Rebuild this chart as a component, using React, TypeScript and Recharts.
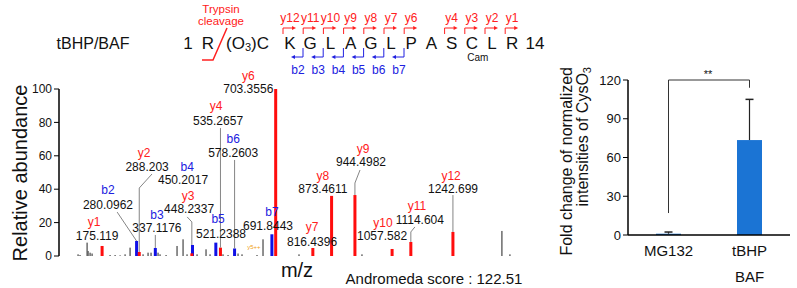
import React from 'react';
import { BarChart, Bar, XAxis, YAxis, ReferenceDot, ReferenceLine } from 'recharts';

const FONT = "'Liberation Sans', Arial, Helvetica, sans-serif";

// ---- MS/MS spectrum (tBHP/BAF) ----
// y-ion fragments (red)
const yIonNames = ['y1', 'y2', 'y3', 'y4', 'y6', 'y7', 'y8', 'y9', 'y10', 'y11', 'y12'];
const yIonMz = [175.119, 288.203, 448.2337, 535.2657, 703.3556, 816.4396, 873.4611, 944.4982, 1057.582, 1114.604, 1242.699];
const yIonIntensity = [6, 2.4, 1.6, 5, 100, 4.8, 36, 36.5, 4.2, 8.4, 14.4];

// b-ion fragments (blue)
const bIonNames = ['b2', 'b3', 'b4', 'b5', 'b6', 'b7'];
const bIonMz = [280.0962, 337.1176, 450.2017, 521.2388, 578.2603, 691.8443];
const bIonIntensity = [9, 4.8, 6.6, 8, 4.5, 13];

// unassigned peaks (gray)
const otherMz = [102, 108, 129.5, 132.5, 138.6, 144.7, 199.4, 214.7, 229.9, 245.1, 260.3, 299.8, 315, 324.1, 345.4, 351.5, 369.8, 403.2, 421.5, 433.6, 464.1, 491.4, 503.6, 543.1, 558.4, 588.8, 600.9, 646.5, 664.8, 774.3, 965.9, 1391.7, 1416.1];
const otherIntensity = [1, 0.6, 8, 3, 2, 1.5, 0.6, 0.6, 0.4, 1, 5, 1, 2, 2, 2, 1, 0.6, 6, 10, 1, 1, 4, 1, 1, 0.6, 1.5, 1, 0.6, 10, 1, 1, 15, 1];

const abundanceTicks = [0, 20, 40, 60, 80, 100];

// ---- fold change bar chart ----
const groups = ['MG132', 'tBHP'];
const groupSub = ['', 'BAF'];
const foldChange = [1, 73.5];
const foldError = [1.3, 31.5];
const foldTicks = [0, 30, 60, 90, 120];

// ---- peptide header ----
const peptide = ['K', 'G', 'L', 'A', 'G', 'L', 'P', 'A', 'S', 'C', 'L', 'R'];
const ySites = [0, 1, 2, 3, 4, 5, 6, 8, 9, 10, 11];
const bSites = [0, 1, 2, 3, 4, 5];

const RED = '#ff2020';
const BLUE = '#2020e0';
const PEAK_FILL: Record<string, string> = { other: '#555555', b: '#1010e6', y: '#ff0d0d' };
const PEAK_WIDTH: Record<string, number> = { other: 1.3, b: 3, y: 3 };

const peaks = [
  ...otherMz.map((mz, i) => ({ mz, intensity: otherIntensity[i], kind: 'other' })),
  ...bIonMz.map((mz, i) => ({ mz, intensity: bIonIntensity[i], kind: 'b' })),
  ...yIonMz.map((mz, i) => ({ mz, intensity: yIonIntensity[i], kind: 'y' })),
];

// label placement in data units: [ionX, ionY, numX, numY], optional leader polyline
const placement: Record<string, { at: number[]; leader?: number[][] }> = {
  y1: { at: [151, 20.4, 160, 12] },
  b2: { at: [193, 39.5, 193, 30.5], leader: [[221, 26.3], [280.1, 9]] },
  y2: { at: [303, 61.7, 312, 53.3], leader: [[327, 49.1], [288.2, 40.7], [288.2, 2.4]] },
  b4: { at: [434, 53.6, 421.5, 45.5] },
  y3: { at: [437, 36, 440, 28.1], leader: [[434, 23.4], [448.2, 20.4], [448.2, 6.6]] },
  b3: { at: [342, 24.8, 342, 16.8], leader: [[337.1, 12.6], [337.1, 4.8]] },
  y4: { at: [522, 90, 528, 80.8], leader: [[535.3, 76.6], [535.3, 5]] },
  b5: { at: [528, 22.6, 537, 13.6] },
  b6: { at: [574, 70.3, 574, 61.7], leader: [[578.3, 57.5], [578.3, 4.5]] },
  y6: { at: [620, 108.2, 620, 100] },
  b7: { at: [692, 26.6, 680, 18] },
  y7: { at: [814, 17.6, 814, 8.4] },
  y8: { at: [847, 48, 847, 40.1] },
  y9: { at: [969, 64.4, 963, 56.3], leader: [[960, 51.5], [944.5, 43.7], [944.5, 36.5]] },
  y10: { at: [1030, 20, 1027, 12] },
  y11: { at: [1133, 30, 1142, 21.6], leader: [[1127, 17.4], [1114.6, 14.4], [1114.6, 8.4]] },
  y12: { at: [1237, 48.2, 1243, 40.1], leader: [[1242.7, 36.5], [1242.7, 14.4]] },
};

const annotations = [
  ...yIonNames.map((ion, i) => ({ ion, text: String(yIonMz[i]), color: RED })),
  ...bIonNames.map((ion, i) => ({ ion, text: String(bIonMz[i]), color: BLUE })),
];

const PeakShape = (props: any) => {
  const { x, y, width, height } = props;
  const kind = props.payload?.kind ?? props.kind;
  const w = PEAK_WIDTH[kind];
  return <rect x={x + width / 2 - w / 2} y={y} width={w} height={Math.max(height, 0)} fill={PEAK_FILL[kind]} />;
};

const FoldBar = (props: any) => {
  const { x, y, width, height, payload } = props;
  const unit = payload.value ? height / payload.value : 0;
  const top = y - payload.err * unit;
  const cx = x + width / 2;
  return (
    <g>
      <rect x={x} y={y} width={width} height={height} fill="#1b74d4" />
      <line x1={cx} x2={cx} y1={y} y2={top} stroke="#222" strokeWidth={1.2} />
      <line x1={cx - 4} x2={cx + 4} y1={top} y2={top} stroke="#222" strokeWidth={1.5} />
    </g>
  );
};

const GroupTick = (props: any) => {
  const { x, y, payload, index } = props;
  return (
    <g>
      <text x={x} y={y + 13} textAnchor="middle" fontSize={15} fill="#111">{payload.value}</text>
      {groupSub[index] ? (
        <text x={x} y={y + 39} textAnchor="middle" fontSize={15} fill="#111">{groupSub[index]}</text>
      ) : null}
    </g>
  );
};

const Spectrum = () => (
  <BarChart width={540} height={288} data={peaks} margin={{ top: 89, right: 15, bottom: 32, left: 0 }}>
    <XAxis
      dataKey="mz"
      type="number"
      domain={[44, 1462]}
      allowDataOverflow
      tick={false}
      tickLine={false}
      axisLine={{ stroke: '#000', strokeWidth: 1.5 }}
      height={0}
    />
    <YAxis
      type="number"
      domain={[0, 100]}
      ticks={abundanceTicks}
      width={59}
      tickSize={5}
      tick={{ fill: '#111', fontSize: 12 }}
      tickLine={{ stroke: '#000' }}
      axisLine={{ stroke: '#000', strokeWidth: 1.5 }}
    />
    <Bar dataKey="intensity" shape={(p: any) => <PeakShape {...p} />} isAnimationActive={false} />
    {annotations.flatMap((a) => {
      const lead = placement[a.ion].leader || [];
      return lead.slice(1).map((p, i) => (
        <ReferenceLine
          key={`${a.ion}-lead-${i}`}
          segment={[{ x: lead[i][0], y: lead[i][1] }, { x: p[0], y: p[1] }]}
          stroke="#777"
          strokeWidth={0.9}
          ifOverflow="visible"
        />
      ));
    })}
    {annotations.map((a) => {
      const [ix, iy, nx, ny] = placement[a.ion].at;
      return (
        <React.Fragment key={a.ion}>
          <ReferenceDot x={ix} y={iy} r={0} fill="none" stroke="none" ifOverflow="visible"
            label={{ value: a.ion, position: 'center', fill: a.color, fontSize: 12 }} />
          <ReferenceDot x={nx} y={ny} r={0} fill="none" stroke="none" ifOverflow="visible"
            label={{ value: a.text, position: 'center', fill: '#111', fontSize: 12 }} />
        </React.Fragment>
      );
    })}
    <ReferenceDot x={637} y={5.4} r={0} fill="none" stroke="none" ifOverflow="visible"
      label={{ value: 'y5++', position: 'center', fill: '#f0a020', fontSize: 6 }} />
  </BarChart>
);

const barData = groups.map((name, i) => ({ name, slot: i + 0.5, value: foldChange[i], err: foldError[i] }));

const FoldChart = () => (
  <BarChart width={257} height={288} data={barData} margin={{ top: 80, right: 7, bottom: 0, left: 0 }}>
    <XAxis
      xAxisId="frame"
      dataKey="slot"
      type="number"
      domain={[0, 2]}
      ticks={[0, 1, 2]}
      tick={false}
      tickSize={4}
      tickLine={{ stroke: '#000' }}
      axisLine={{ stroke: '#000', strokeWidth: 1.5 }}
      height={0}
    />
    <XAxis
      xAxisId="cat"
      dataKey="name"
      axisLine={{ stroke: '#000', strokeWidth: 1.5 }}
      tickLine={false}
      tick={<GroupTick />}
      height={53}
    />
    <YAxis
      type="number"
      domain={[0, 120]}
      ticks={foldTicks}
      width={88}
      tickSize={5}
      tick={{ fill: '#111', fontSize: 13 }}
      tickLine={{ stroke: '#000' }}
      axisLine={{ stroke: '#000', strokeWidth: 1.5 }}
    />
    <Bar xAxisId="cat" dataKey="value" barSize={25} shape={(p: any) => <FoldBar {...p} />} isAnimationActive={false} />
    <ReferenceLine xAxisId="cat" segment={[{ x: 'MG132', y: 17 }, { x: 'MG132', y: 120 }]} stroke="#333" ifOverflow="visible" />
    <ReferenceLine xAxisId="cat" segment={[{ x: 'MG132', y: 120 }, { x: 'tBHP', y: 120 }]} stroke="#333" ifOverflow="visible" />
    <ReferenceLine xAxisId="cat" segment={[{ x: 'tBHP', y: 120 }, { x: 'tBHP', y: 114 }]} stroke="#333" ifOverflow="visible" />
  </BarChart>
);

const letterX = (i: number) => 290 + 20.2 * i;

const Header = () => (
  <svg width={797} height={288} style={{ position: 'absolute', left: 0, top: 0, pointerEvents: 'none' }} fontFamily={FONT}>
    <text x={93} y={49} textAnchor="middle" fontSize={16} fill="#111">tBHP/BAF</text>
    <text x={188} y={49} textAnchor="middle" fontSize={17} fill="#111">1</text>
    <text x={208} y={49} textAnchor="middle" fontSize={17} fill="#111">R</text>
    <text x={226} y={49} fontSize={17} fill="#111">
      (O<tspan fontSize={11} dy={2}>3</tspan><tspan dy={-2}>)C</tspan>
    </text>
    <text x={535} y={49} textAnchor="middle" fontSize={17} fill="#111">14</text>
    <polyline points="202,60 213,60 227,28" fill="none" stroke={RED} strokeWidth={1.5} />
    <text x={221} y={13} textAnchor="middle" fontSize={11.5} fill={RED}>Trypsin</text>
    <text x={221} y={25} textAnchor="middle" fontSize={11.5} fill={RED}>cleavage</text>
    {peptide.map((aa, i) => (
      <text key={i} x={letterX(i)} y={49} textAnchor="middle" fontSize={17} fill="#111">{aa}</text>
    ))}
    <text x={letterX(9) + 6} y={61} textAnchor="middle" fontSize={10} fill="#111">Cam</text>
    {ySites.map((s) => {
      const c = letterX(s);
      return (
        <g key={`y${s}`}>
          <polyline points={`${c - 7},34 ${c - 7},28 ${c + 3},28`} fill="none" stroke={RED} strokeWidth={1} />
          <polygon points={`${c + 6},28 ${c + 2},26 ${c + 2},30`} fill={RED} />
          <text x={c} y={22} textAnchor="middle" fontSize={12} fill={RED}>{`y${12 - s}`}</text>
        </g>
      );
    })}
    {bSites.map((s) => {
      const c = letterX(s);
      return (
        <g key={`b${s}`}>
          <polyline points={`${c + 13},48 ${c + 13},57 ${c + 4},57`} fill="none" stroke={BLUE} strokeWidth={1} />
          <polygon points={`${c + 1},57 ${c + 5},55 ${c + 5},59`} fill={BLUE} />
          <text x={c + 8} y={74} textAnchor="middle" fontSize={12} fill={BLUE}>{`b${s + 2}`}</text>
        </g>
      );
    })}
    <text transform="translate(27,173) rotate(-90)" textAnchor="middle" fontSize={20} fill="#111">Relative abundance</text>
    <text x={297} y={277} textAnchor="middle" fontSize={20} fill="#111">m/z</text>
    <text x={434} y={284} textAnchor="middle" fontSize={15} fill="#111">Andromeda score : 122.51</text>
    <text transform="translate(572,67) rotate(-90)" textAnchor="end" fontSize={16} fill="#111">Fold change of normalized</text>
    <text transform="translate(588,67) rotate(-90)" textAnchor="end" fontSize={16} fill="#111">
      intensities of CysO<tspan fontSize={11} dy={3}>3</tspan>
    </text>
    <text x={708} y={78} textAnchor="middle" fontSize={11} fill="#111">**</text>
  </svg>
);

export default function App() {
  return (
    <div style={{ position: 'absolute', left: 0, top: 0, width: 797, height: 288, background: '#fff', fontFamily: FONT }}>
      <div style={{ position: 'absolute', left: 0, top: 0 }}>
        <Spectrum />
      </div>
      <div style={{ position: 'absolute', left: 540, top: 0 }}>
        <FoldChart />
      </div>
      <Header />
    </div>
  );
}
